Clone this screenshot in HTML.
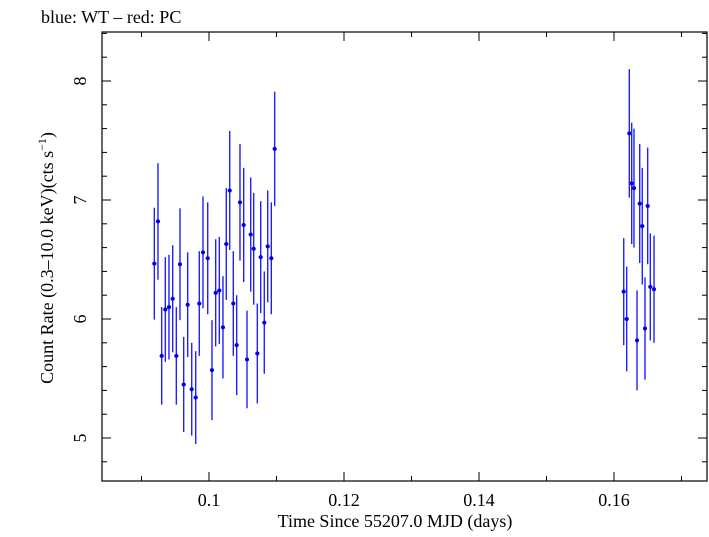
<!DOCTYPE html>
<html><head><meta charset="utf-8"><style>
body{margin:0;background:#fff;}
svg text{font-family:"Liberation Serif",serif;fill:#000;}
</style></head><body>
<svg width="709" height="532" viewBox="0 0 709 532">
<g id="axes"></g>
<g id="data"></g>
<text x="41" y="23" font-size="18">blue: WT – red: PC</text>
<text x="395" y="527" font-size="18" text-anchor="middle">Time Since 55207.0 MJD (days)</text>
<text transform="translate(53,258) rotate(-90)" font-size="18" text-anchor="middle">Count Rate (0.3–10.0 keV)(cts s<tspan font-size="12" dy="-7">−1</tspan><tspan dy="7">)</tspan></text>
</svg>
<script>
const times=[0.09190,0.09244,0.09299,0.09353,0.09407,0.09462,0.09516,0.09570,0.09625,0.09684,0.09744,0.09803,0.09856,0.09911,0.09981,0.10044,0.10099,0.10153,0.10207,0.10256,0.10307,0.10360,0.10410,0.10459,0.10514,0.10563,0.10618,0.10662,0.10716,0.10766,0.10819,0.10870,0.10923,0.10973,
0.16144,0.16188,0.16227,0.16262,0.16296,0.16341,0.16381,0.16419,0.16459,0.16499,0.16538,0.16593];
const rates=[6.465,6.82,5.69,6.08,6.10,6.17,5.69,6.46,5.45,6.12,5.41,5.34,6.13,6.56,6.51,5.57,6.22,6.24,5.93,6.63,7.08,6.13,5.78,6.98,6.79,5.66,6.71,6.59,5.71,6.52,5.97,6.61,6.51,7.43,
6.23,6.00,7.56,7.14,7.10,5.82,6.97,6.78,5.92,6.95,6.27,6.25];
const errs=[0.47,0.49,0.41,0.44,0.44,0.45,0.41,0.47,0.40,0.44,0.39,0.39,0.44,0.47,0.47,0.42,0.45,0.45,0.43,0.47,0.50,0.44,0.42,0.49,0.48,0.41,0.48,0.47,0.42,0.47,0.43,0.47,0.47,0.48,
0.45,0.44,0.54,0.51,0.50,0.42,0.50,0.49,0.43,0.49,0.45,0.45];
const xTicks=[0.1,0.12,0.14,0.16];
const yTicks=[5,6,7,8];
const L=102,R=707,T=32,B=481;
const xs=t=>209+(t-0.1)*6750;
const ys=v=>81+(8-v)*119;
const NS="http://www.w3.org/2000/svg";
function mk(tag,attrs,parent){const e=document.createElementNS(NS,tag);for(const k in attrs)e.setAttribute(k,attrs[k]);parent.appendChild(e);return e;}
const ax=document.getElementById('axes');
const frame=mk('rect',{x:L,y:T,width:R-L,height:B-T,fill:'none',stroke:'#000','stroke-width':1.2},ax);


for(let t=0.09;t<=0.171;t+=0.01){const x=xs(t);const maj=Math.abs(t*50-Math.round(t*50))<1e-6;const len=maj?9:5;
mk('line',{x1:x,x2:x,y1:B,y2:B-len,stroke:'#000'},ax);mk('line',{x1:x,x2:x,y1:T,y2:T+len,stroke:'#000'},ax);}
for(let v=4.8;v<=8.41;v+=0.2){const y=ys(v);if(y<T||y>B)continue;const maj=Math.abs(v-Math.round(v))<1e-6;const len=maj?9:5;
mk('line',{x1:L,x2:L+len,y1:y,y2:y,stroke:'#000'},ax);mk('line',{x1:R,x2:R-len,y1:y,y2:y,stroke:'#000'},ax);}
xTicks.forEach(t=>{const e=mk('text',{x:xs(t),y:506,'font-size':18,'text-anchor':'middle'},ax);e.textContent=String(t);

});
yTicks.forEach(v=>{const e=mk('text',{transform:`translate(86,${ys(v)}) rotate(-90)`,'font-size':18,'text-anchor':'middle'},ax);e.textContent=String(v);

});
const dg=document.getElementById('data');
times.forEach((t,i)=>{const x=xs(t),y=ys(rates[i]);
const g=mk('g',{},dg);


mk('line',{x1:x,x2:x,y1:ys(rates[i]+errs[i]),y2:ys(rates[i]-errs[i]),stroke:'#2020ff','stroke-width':1.4},g);
mk('line',{x1:x-2,x2:x+2,y1:y,y2:y,stroke:'#0000ee','stroke-width':1.4},g);
mk('circle',{cx:x,cy:y,r:2,fill:'#0000ee'},g);});
</script>
</body></html>
